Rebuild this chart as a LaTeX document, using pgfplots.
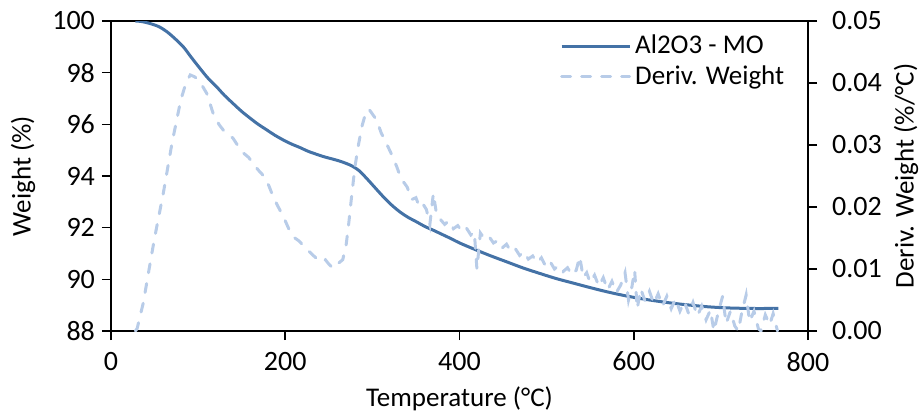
\documentclass[border=0pt]{standalone}
\usepackage{pgfplots}
\pgfplotsset{compat=1.18}
\usepackage{fontspec}
\setmainfont{Carlito}
\definecolor{wblue}{RGB}{68,114,166}
\definecolor{dblue}{RGB}{184,204,232}
\pgfplotsset{
  common/.style={
    scale only axis, width=348.5pt, height=155pt,
    at={(0,0)}, anchor=south west,
    xmin=0, xmax=800,
    axis line style={black, line width=0.8pt},
    tick style={black, line width=0.8pt},
    tick align=outside, major tick length=4.5pt,
    /pgf/number format/assume math mode=true,
    tick label style={font=\fontsize{14}{16}\selectfont},
    label style={font=\fontsize{13.5}{16}\selectfont},
  }
}
\begin{document}
\begin{tikzpicture}
\path[use as bounding box] (-55.5pt,-41pt) rectangle (405.5pt,165.5pt);
\begin{axis}[common,
  ymin=88, ymax=100, ytick={88,90,...,100},
  xtick={0,200,...,800},
  xtick pos=bottom, ytick pos=left,
  xticklabel style={yshift=-2.5pt},
  xlabel={Temperature (°C)}, ylabel={Weight (\%)},
  xlabel style={at={(axis description cs:0.5,-0.219)}, anchor=center},
  ylabel style={at={(axis description cs:-0.1263,0.5)}, anchor=center},
]
\addplot[wblue, line width=1.5pt, smooth] coordinates {
(28,100.00)(35,99.98)(45,99.90)(55,99.78)(64,99.59)(73,99.33)(83,99.00)(92,98.60)
(102,98.17)(111,97.80)(121,97.46)(130,97.13)(140,96.81)(150,96.50)(160,96.23)
(169,96.00)(179,95.78)(188,95.58)(198,95.39)(207,95.24)(217,95.10)(226,94.96)
(236,94.84)(245,94.74)(255,94.65)(265,94.55)(274,94.43)(280,94.32)(285,94.20)
(290,94.03)(295,93.85)(303,93.55)(313,93.18)(322,92.88)(332,92.60)(341,92.40)
(351,92.22)(360,92.05)(370,91.90)(380,91.74)(390,91.58)(400,91.41)(416,91.18)
(435,90.92)(454,90.68)(473,90.44)(492,90.23)(511,90.03)(531,89.85)(550,89.68)
(569,89.52)(588,89.38)(607,89.26)(626,89.16)(646,89.07)(665,89.00)(684,88.94)
(703,88.90)(722,88.88)(745,88.87)(766,88.88)
};
\end{axis}
\begin{axis}[common,
  axis x line=none, axis y line*=right,
  ymin=0, ymax=0.05, ytick={0,0.01,...,0.05},
  scaled y ticks=false,
  yticklabel style={xshift=4pt, /pgf/number format/.cd, fixed, fixed zerofill, precision=2},
  ylabel={Deriv. Weight (\%/°C)},
  ylabel style={at={(axis description cs:1.1406,0.5)}, anchor=center},
  legend style={draw=none, fill=none, at={(axis description cs:0.975,0.975)}, anchor=north east,
    font=\fontsize{13.5}{16}\selectfont, row sep=0.5pt, inner sep=1pt},
  legend cell align=left,
  legend image code/.code={\draw[#1] (0pt,0pt) -- (34pt,0pt);},
]
\addlegendimage{wblue, line width=1.5pt}
\addlegendentry{Al2O3 - MO}
\addplot[dblue, line width=1.5pt, line cap=round, dash pattern=on 4.5pt off 5.5pt] coordinates {
(28,0.0000)(30,0.0004)(37,0.0045)(45,0.0110)(50,0.0150)(60,0.0222)(70,0.0303)
(80,0.0372)(86,0.0400)(91,0.0413)(96,0.0410)(102,0.0402)(110,0.0383)(117,0.0352)
(124,0.0333)(130,0.0322)(140,0.0311)(146,0.0298)(152,0.0287)(158,0.0280)(163,0.0270)
(170,0.0258)(176,0.0249)(181,0.0235)(186,0.0217)(192,0.0200)(198,0.0184)(204,0.0165)
(209,0.0152)(216,0.0145)(224,0.0133)(232,0.0122)(240,0.0112)(246,0.0115)(250,0.0108)
(255,0.0101)(260,0.0108)(266,0.0115)(270,0.0140)(273,0.0175)(276,0.0215)(280,0.0265)
(284,0.0300)(288,0.0330)(292,0.0350)(296,0.0358)(300,0.0350)(305,0.0340)(310,0.0320)
(316,0.0303)(322,0.0285)(328,0.0265)(333,0.0245)(337,0.0238)
(340,0.0232)(345,0.0212)(350,0.0215)(354,0.0200)(358,0.0205)(362,0.0196)(366,0.0172)
(370,0.0222)(374,0.0185)(378,0.0180)(383,0.0172)(388,0.0178)(393,0.0165)(398,0.0170)
(403,0.0160)(408,0.0166)(413,0.0155)(417,0.0160)(420,0.0100)(424,0.0158)(429,0.0148)
(434,0.0152)(439,0.0142)(444,0.0146)(449,0.0134)(454,0.0140)(459,0.0128)(464,0.0133)
(469,0.0122)(474,0.0128)(479,0.0116)(484,0.0121)(489,0.0110)(494,0.0118)(499,0.0104)
(504,0.0112)(509,0.0100)(514,0.0106)(519,0.0096)(524,0.0102)(529,0.0090)(534,0.0098)
(538,0.0120)(542,0.0086)(546,0.0094)(550,0.0078)(555,0.0090)(560,0.0072)(565,0.0086)
(570,0.0066)(575,0.0080)(580,0.0062)(585,0.0074)(590,0.0094)(594,0.0050)(598,0.0072)
(601,0.0098)(604,0.0036)(608,0.0068)(613,0.0048)(618,0.0064)(623,0.0044)(628,0.0060)
(633,0.0040)(638,0.0056)(643,0.0036)(648,0.0052)(653,0.0032)(658,0.0048)(663,0.0028)
(668,0.0046)(673,0.0024)(678,0.0040)(683,0.0018)(688,0.0034)(692,0.0000)(697,0.0030)
(702,0.0056)(706,0.0012)(711,0.0032)(716,0.0008)(720,0.0000)(724,0.0030)(729,0.0058)
(733,0.0015)(738,0.0032)(743,0.0004)(746,0.0000)(751,0.0026)(756,0.0010)(760,0.0028)
(765,0.0000)
};
\addlegendentry{Deriv. Weight}
\end{axis}
\end{tikzpicture}
\end{document}
